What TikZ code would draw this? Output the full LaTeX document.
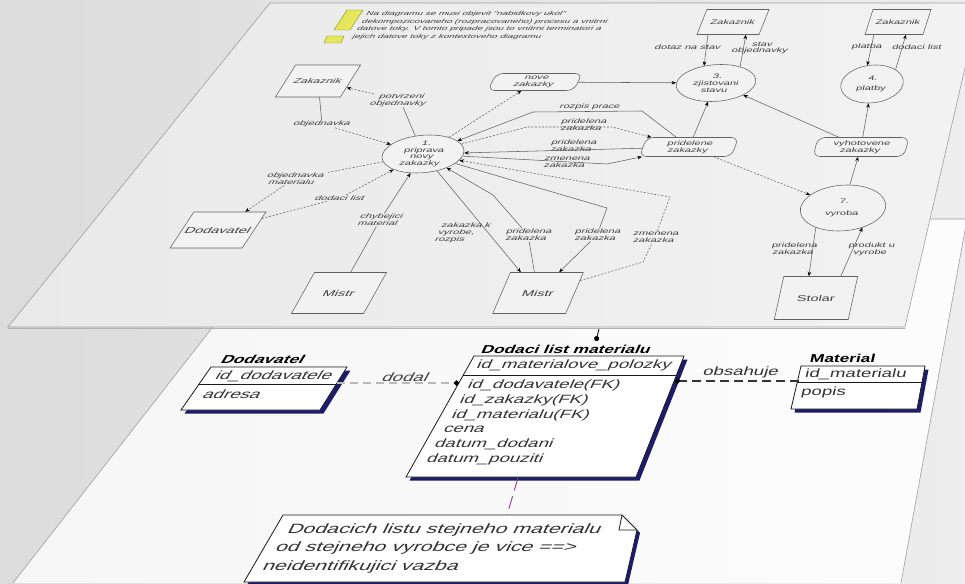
\documentclass[tikz,border=0pt]{standalone}
\usepackage{fontspec}
\setmainfont{Liberation Sans}
\usetikzlibrary{arrows.meta,shapes.geometric}

\definecolor{deskA}{HTML}{DCDCDC}
\definecolor{deskB}{HTML}{EDEDED}
\definecolor{sheetA}{HTML}{E9E9E9}
\definecolor{sheetB}{HTML}{F2F2F2}
\definecolor{paperA}{HTML}{F6F6F6}
\definecolor{paperB}{HTML}{FCFCFC}
\definecolor{edgegray}{HTML}{9E9E9E}
\definecolor{ink}{HTML}{404040}
\definecolor{wire}{HTML}{626262}
\definecolor{navy}{HTML}{1C1C68}
\definecolor{hintfill}{HTML}{E4E65C}
\definecolor{hintline}{HTML}{8E8E2A}
\definecolor{linkpurple}{HTML}{8C3C8C}

\newcommand{\pxsize}[2]{\fontsize{#1}{#2}\selectfont}

\tikzset{
  % data flow diagram on the upper sheet
  dfdlabel/.style={xslant=#1, xscale=1.7, text=ink, align=center,
    inner sep=0.6pt, font=\pxsize{6.5}{6.8}},
  hinttext/.style={xslant=#1, xscale=1.7, text=ink, align=left,
    inner sep=0pt, font=\pxsize{5.8}{7.7}},
  extbox/.style={rectangle, draw=wire, line width=0.55pt, fill=sheetB,
    xslant=#1, xscale=1.7, text=ink, inner sep=0pt, font=\pxsize{8.5}{9}},
  process/.style={ellipse, draw=wire, line width=0.55pt, fill=sheetB,
    xslant=#1, xscale=1.7, text=ink, align=center, inner sep=0pt,
    font=\pxsize{6.5}{6.8}},
  datastore/.style={rectangle, rounded corners=7pt, draw=wire,
    line width=0.55pt, fill=sheetB, xslant=#1, xscale=1.7, text=ink,
    align=center, inner sep=0pt, font=\pxsize{6.5}{6.8}},
  wireline/.style={draw=wire, line width=0.55pt},
  wiredash/.style={wireline, dash pattern=on 2pt off 1.6pt},
  flowtip/.style={-{Stealth[length=4.5pt,width=3.6pt,color=black]}},
  % entity relationship diagram on the lower sheet
  erframe/.style={fill=white, draw=black!90, line width=0.8pt},
  ershade/.style={fill=navy},
  errow/.style={xslant=#1, xscale=1.55, anchor=west, inner sep=0pt,
    text=black!80, font=\pxsize{12}{12}},
  ertitle/.style={xslant=#1, xscale=1.5, anchor=west, inner sep=0pt,
    text=black, font=\bfseries\pxsize{11.5}{12}},
  notetext/.style={xslant=#1, xscale=1.58, anchor=west, inner sep=0pt,
    text=black!80, font=\pxsize{13.5}{13.5}},
}

\begin{document}
\begin{tikzpicture}[x=1pt,y=-1pt]
\useasboundingbox (0,0) rectangle (965,583);

% ---------- desk and the two sheets ----------
\begin{scope}
\clip (0,0) rectangle (965,583);
\shade[left color=deskA, right color=deskB] (0,0) rectangle (965,583);
\shade[left color=paperA, right color=paperB]
  (297,219) -- (967,219) -- (901,583) -- (13,583) -- cycle;
\draw[edgegray, line width=0.6pt] (297,219) -- (967,219) -- (901,583);
\draw[edgegray, line width=0.6pt] (13,583) -- (297,219);
\shade[left color=sheetA, right color=sheetB]
  (270,3) -- (980,3) -- (905,327) -- (8,327) -- cycle;
\draw[edgegray, line width=0.6pt] (270,3) -- (980,3) -- (905,327) -- (8,327) -- cycle;
\draw[gray!60, line width=0.8pt] (8,328) -- (905,328);
\end{scope}

% ---------- hint in the corner of the data flow diagram ----------
\filldraw[fill=hintfill, draw=hintline, line width=0.4pt]
  (347,10) -- (363,10) -- (350,30) -- (334,30) -- cycle;
\filldraw[fill=hintfill, draw=hintline, line width=0.4pt]
  (327,36) -- (344,36) -- (341,43) -- (324,43) -- cycle;
\node[hinttext=0.6, anchor=north west] (hint) at (368,11)
  {Na diagramu se musi objevit "nabidkovy ukol"\\
   dekompozicovaneho (rozpracovaneho) procesu a vnitrni\\
   datove toky. V tomto pripade jsou to vnitrni terminatori a\\
   jejich datove toky z kontextoveho diagramu};

% ---------- terminators ----------
\node[extbox=0.63, minimum width=38.2pt, minimum height=32pt, font=\pxsize{7}{7}] (zak1) at (318,81) {Zakaznik};
\node[extbox=0.40, minimum width=36.5pt, minimum height=25pt, font=\pxsize{6.5}{6.5}] (zak2) at (733,22) {Zakaznik};
\node[extbox=0.32, minimum width=34.1pt, minimum height=25pt, font=\pxsize{6.5}{6.5}] (zak3) at (898,22) {Zakaznik};
\node[extbox=0.66, minimum width=42.4pt, minimum height=36pt] (dod) at (218,230) {Dodavatel};
\node[extbox=0.56, minimum width=42.4pt, minimum height=41pt] (mistr1) at (339,293) {Mistr};
\node[extbox=0.43, minimum width=42.9pt, minimum height=41pt] (mistr2) at (538,293) {Mistr};
\node[extbox=0.22, minimum width=43.5pt, minimum height=43pt] (stolar) at (816,298) {Stolar};

% ---------- processes ----------
\node[process=0.35, minimum width=47.6pt, minimum height=38pt] (p1) at (423,154) {1.\\priprava\\novy\\zakazky};
\node[process=0.28, minimum width=46.5pt, minimum height=37pt] (p3) at (716,83) {3.\\zjistovani\\stavu};
\node[process=0.2, minimum width=36.5pt, minimum height=38pt] (p4) at (872,84) {4.\\[3pt]platby};
\node[process=0.2, minimum width=50pt, minimum height=46pt] (p7) at (843,208) {7.\\[5pt]vyroba};

% ---------- data stores ----------
\node[datastore=0.5, minimum width=50.6pt, minimum height=17pt] (nove) at (535,82) {nove\\zakazky};
\node[datastore=0.38, minimum width=54.1pt, minimum height=19pt] (prid) at (689,147) {pridelene\\zakazky};
\node[datastore=0.27, minimum width=53.5pt, minimum height=19pt] (vyho) at (861,147) {vyhotovene\\zakazky};

% ---------- flow labels ----------
\node[dfdlabel=0.62] (lobj) at (322,124) {objednavka};
\node[dfdlabel=0.58] (lpotv) at (400,100) {potvrzeni\\objednavky};
\node[dfdlabel=0.64] (lobjmat) at (294,179) {objednavka\\materialu};
\node[dfdlabel=0.6] (ldod) at (340,198) {dodaci list};
\node[dfdlabel=0.56] (lchyb) at (380,220) {chybejici\\material};
\node[dfdlabel=0.48, align=left] (lzakvyr) at (463,233) {zakazka k\\vyrobe,\\rozpis};
\node[dfdlabel=0.44] (lprid1) at (528,235) {pridelena\\zakazka};
\node[dfdlabel=0.40] (lprid2) at (597,235) {pridelena\\zakazka};
\node[dfdlabel=0.36] (lzmen) at (655,237) {zmenena\\zakazka};
\node[dfdlabel=0.45] (lrozpis) at (590,107) {rozpis prace};
\node[dfdlabel=0.44] (lprid3) at (583,125) {pridelena\\zakazka};
\node[dfdlabel=0.44] (lprid4) at (573,146) {pridelena\\zakazka};
\node[dfdlabel=0.44] (lzmen2) at (566,162) {zmenena\\zakazka};
\node[dfdlabel=0.40] (ldotaz) at (688,47) {dotaz na stav};
\node[dfdlabel=0.38] (lstav) at (761,48) {stav\\objednavky};
\node[dfdlabel=0.30] (lplatba) at (867,47) {platba};
\node[dfdlabel=0.28] (ldodl) at (917,47) {dodaci list};
\node[dfdlabel=0.27] (lprids) at (794,249) {pridelena\\zakazka};
\node[dfdlabel=0.25] (lprod) at (871,249) {produkt u\\vyrobe};

% ---------- flows ----------
\draw[wireline] (zak1) -- (lobj);
\draw[wiredash, flowtip] (lobj) -- (p1);
\draw[wireline] (p1) -- (lpotv);
\draw[wiredash, flowtip] (lpotv) -- (zak1);
\draw[wiredash] (p1) -- (lobjmat);
\draw[wiredash, flowtip] (lobjmat) -- (dod);
\draw[wiredash] (dod) -- (ldod);
\draw[wiredash, flowtip] (ldod) -- (p1);
\draw[wireline] (mistr1) -- (lchyb);
\draw[wireline, flowtip] (lchyb) -- (p1);
\draw[wireline, flowtip] (p1) -- (mistr2);
\draw[wireline, flowtip] (mistr2) -- (lprid1) -- (493,195) -- (p1);
\draw[wireline, flowtip] (p1) -- (607,208) -- (lprid2) -- (mistr2);
\draw[wiredash, flowtip] (mistr2) -- (643,262) -- (lzmen) -- (670,197) -- (p1);
\draw[wiredash, flowtip] (p1) -- (nove);
\draw[wireline, flowtip] (prid) -- (642,111) -- (533,112) -- (p1);
\draw[wiredash, flowtip] (p1) -- (527,127) -- (612,127) -- (prid);
\draw[wireline, flowtip] (prid) -- (p1);
\draw[wireline, flowtip] (p1) -- (607,164) -- (prid);
\draw[wireline, flowtip] (nove) -- (p3);
\draw[wireline, flowtip] ([xshift=-20pt]zak2.south) -- (p3.120);
\draw[wireline, flowtip] (p3.55) -- ([xshift=18pt]zak2.south);
\draw[wireline, flowtip] (prid) -- (p3);
\draw[wireline, flowtip] (vyho) -- (p3);
\draw[wiredash, flowtip] (prid) -- (p7);
\draw[wireline, flowtip] (p7) -- (vyho);
\draw[wireline, flowtip] (vyho) -- (p4);
\draw[wireline, flowtip] ([xshift=-20pt]zak3.south) -- (p4.105);
\draw[wireline, flowtip] (p4.50) -- ([xshift=12pt]zak3.south);
\draw[wireline, flowtip] (p7.235) -- ([xshift=-12pt]stolar.north);
\draw[wireline, flowtip] ([xshift=20pt]stolar.north) -- (p7.305);

% ---------- entity relationship diagram ----------
% supplier
\fill[ershade] (214.5,370.5) -- (350.5,370.5) -- (323.5,413.5) -- (184.5,413.5) -- cycle;
\draw[erframe] (211,367) -- (347,367) -- (320,410) -- (181,410) -- cycle;
\draw[black!90, line width=0.8pt] (199.1,384) -- (336.3,384);
\node[ertitle=0.62] (tden) at (222,359) {Dodavatel};
\node[errow=0.62] (den1) at (216,376) {id\_dodavatele};
\node[errow=0.62] (den2) at (204,394) {adresa};

% delivery note item
\fill[ershade] (477.5,359.5) -- (687.5,359.5) -- (639.5,480.5) -- (409.5,480.5) -- cycle;
\draw[erframe] (474,356) -- (684,356) -- (636,477) -- (406,477) -- cycle;
\draw[black!90, line width=0.8pt] (463.3,375) -- (676.5,375);
\node[ertitle=0.45] (tdmat) at (482,349) {Dodaci list materialu};
\node[errow=0.45] (dm0) at (477,365) {id\_materialove\_polozky};
\node[errow=0.45] (dm1) at (468,385) {id\_dodavatele(FK)};
\node[errow=0.45] (dm2) at (460,400) {id\_zakazky(FK)};
\node[errow=0.45] (dm3) at (452,415) {id\_materialu(FK)};
\node[errow=0.45] (dm4) at (444,429) {cena};
\node[errow=0.45] (dm5) at (435,444) {datum\_dodani};
\node[errow=0.45] (dm6) at (427,459) {datum\_pouziti};

% material
\fill[ershade] (804.5,369.5) -- (928.5,369.5) -- (920.5,412.5) -- (794.5,412.5) -- cycle;
\draw[erframe] (801,366) -- (925,366) -- (917,409) -- (791,409) -- cycle;
\draw[black!90, line width=0.8pt] (797.3,382) -- (922,382);
\node[ertitle=0.22] (tmat) at (810,358) {Material};
\node[errow=0.22] (mat1) at (805,374) {id\_materialu};
\node[errow=0.22] (mat2) at (801,392) {popis};

% relationships
\coordinate (denE) at (337,383);
\coordinate (dmatW) at (459,383);
\coordinate (matW) at (799,381);
\coordinate (dmatE) at (675,381);
\coordinate (fromabove) at (599,329);
\coordinate (dmatN) at (596,341);
\draw[gray!55, line width=1.3pt, dash pattern=on 8pt off 5pt,
  -{Circle[length=5pt,color=black]}] (denE) -- (dmatW);
\draw[black!80, line width=1.6pt, dash pattern=on 9pt off 5pt,
  -{Circle[length=5pt,color=black]}] (matW) -- (dmatE);
\draw[black, line width=0.8pt, -{Circle[length=5pt]}] (fromabove) -- (dmatN);
\node[xslant=0.55, xscale=1.55, inner sep=0pt, text=black!75, font=\pxsize{12}{12}] (ldodal) at (406,377) {dodal};
\node[xslant=0.3, xscale=1.55, inner sep=0pt, text=black!80, font=\pxsize{12}{12}] (lobsah) at (741,372) {obsahuje};

% note
\fill[ershade] (286,518) -- (625,518) -- (640,533) -- (628,585) -- (247,585) -- cycle;
\draw[erframe] (283,515) -- (622,515) -- (637,530) -- (625,582) -- (244,582) -- cycle;
\draw[black!90, line width=0.8pt] (622,515) -- (619,530) -- (637,530);
\node[notetext=0.5] (note1) at (288,530) {Dodacich listu stejneho materialu};
\node[notetext=0.5] (note2) at (276,548) {od stejneho vyrobce je vice ==>};
\node[notetext=0.5] (note3) at (263,567) {neidentifikujici vazba};
\coordinate (dmatS) at (518,478);
\coordinate (noteN) at (507,515);
\draw[linkpurple, line width=0.9pt, dash pattern=on 13pt off 6pt] (dmatS) -- (noteN);

\end{tikzpicture}
\end{document}
